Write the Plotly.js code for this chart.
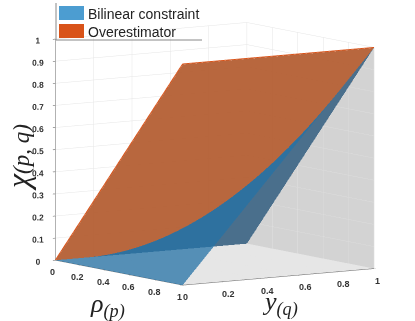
<!DOCTYPE html>
<html>
<head>
<meta charset="utf-8">
<script src="https://cdn.plot.ly/plotly-3.0.1.min.js"></script>
<style>html,body{margin:0;padding:0;background:#fff}</style>
</head>
<body>
<div id="chart" style="width:415px;height:321px"></div>
<script>
var tickValues = [0, 0.2, 0.4, 0.6, 0.8, 1];
var zTickValues = [0, 0.1, 0.2, 0.3, 0.4, 0.5, 0.6, 0.7, 0.8, 0.9, 1];

var legendLabels = ['Bilinear constraint', 'Overestimator'];

var rhoGrid = [0, 0.1, 0.2, 0.3, 0.4, 0.5, 0.6, 0.7, 0.8, 0.9, 1];
var yGrid = [0, 0.1, 0.2, 0.3, 0.4, 0.5, 0.6, 0.7, 0.8, 0.9, 1];
var bilinearZ = [
  [0, 0, 0, 0, 0, 0, 0, 0, 0, 0, 0],
  [0, 0.01, 0.02, 0.03, 0.04, 0.05, 0.06, 0.07, 0.08, 0.09, 0.1],
  [0, 0.02, 0.04, 0.06, 0.08, 0.1, 0.12, 0.14, 0.16, 0.18, 0.2],
  [0, 0.03, 0.06, 0.09, 0.12, 0.15, 0.18, 0.21, 0.24, 0.27, 0.3],
  [0, 0.04, 0.08, 0.12, 0.16, 0.2, 0.24, 0.28, 0.32, 0.36, 0.4],
  [0, 0.05, 0.1, 0.15, 0.2, 0.25, 0.3, 0.35, 0.4, 0.45, 0.5],
  [0, 0.06, 0.12, 0.18, 0.24, 0.3, 0.36, 0.42, 0.48, 0.54, 0.6],
  [0, 0.07, 0.14, 0.21, 0.28, 0.35, 0.42, 0.49, 0.56, 0.63, 0.7],
  [0, 0.08, 0.16, 0.24, 0.32, 0.4, 0.48, 0.56, 0.64, 0.72, 0.8],
  [0, 0.09, 0.18, 0.27, 0.36, 0.45, 0.54, 0.63, 0.72, 0.81, 0.9],
  [0, 0.1, 0.2, 0.3, 0.4, 0.5, 0.6, 0.7, 0.8, 0.9, 1]
];

var overRho = [0, 1];
var overY = [0, 1];
var overZ = [[0, 1], [0, 1]];

// orange rim along the top of the overestimator
var rimX = [0, 1, 1];
var rimY = [0, 0, 1];
var rimZ = [0, 1, 1];

// gray triangle on the back wall
var wallX = [0, 1, 1];
var wallY = [1, 1, 1];
var wallZ = [0, 0, 1];

function flat(c) { return [[0, c], [1, c]]; }

var data = [
  {
    type: 'mesh3d', x: wallX, y: wallY, z: wallZ, i: [0], j: [1], k: [2],
    color: '#d3d3d3', flatshading: true, hoverinfo: 'skip',
    lighting: {ambient: 1, diffuse: 0, specular: 0}
  },
  {
    // just under 1 so it goes in the transparent pass and does not fight the blue along y=1
    type: 'surface', x: overRho, y: overY, z: overZ,
    colorscale: flat('#b7653c'), showscale: false, opacity: 0.99, hoverinfo: 'skip',
    lighting: {ambient: 1, diffuse: 0, specular: 0, fresnel: 0}
  },
  {
    type: 'scatter3d', mode: 'lines', x: rimX, y: rimY, z: rimZ,
    line: {color: '#d95319', width: 2}, hoverinfo: 'skip'
  },
  {
    type: 'surface', x: rhoGrid, y: yGrid, z: bilinearZ,
    colorscale: flat('#2572a6'), showscale: false, opacity: 0.75, hoverinfo: 'skip',
    lighting: {ambient: 1, diffuse: 0, specular: 0, fresnel: 0}
  }
];

function axis(vals) {
  return {
    title: {text: ''},
    range: [0, 1], autorange: false,
    tickmode: 'array', tickvals: vals, ticktext: vals.map(function (v) { return '<b>' + v + '</b>'; }),
    tickangle: 0,
    tickfont: {family: 'Liberation Sans', size: 10, color: '#333'},
    ticks: 'outside', ticklen: 3, tickcolor: '#555',
    showgrid: true, gridcolor: 'rgba(0,0,0,0.1)', gridwidth: 1,
    showline: true, linecolor: '#666', linewidth: 1,
    zeroline: false, showspikes: false, showbackground: false
  };
}

var xAxis = axis(tickValues);
xAxis.showticklabels = false;
var yAxis = axis(tickValues);
yAxis.showticklabels = false;
var zAxis = axis(zTickValues);
zAxis.showbackground = true;
zAxis.backgroundcolor = '#e6e6e6';

// rho and y tick labels sit further off the axis than the native ones
function tickLabel(x, y, v, xs, ys) {
  return {
    x: x, y: y, z: 0, text: String(v), showarrow: false, xshift: xs, yshift: ys,
    font: {family: 'Liberation Sans', size: 9, color: '#333', weight: 'bold'}
  };
}
var sceneNotes = tickValues.map(function (v) { return tickLabel(v, 0, v, -3, -12); })
  .concat(tickValues.map(function (v) { return tickLabel(1, v, v, (v === 0 || v === 1) ? 3 : 8, -12); }));

var layout = {
  width: 415, height: 321,
  margin: {l: 0, r: 0, t: 0, b: 0},
  paper_bgcolor: '#fff',
  showlegend: false,
  scene: {
    domain: {x: [0, 1], y: [0, 1]},
    aspectmode: 'manual',
    aspectratio: {x: 1.433, y: 1.433, z: 1.39},
    xaxis: xAxis,
    yaxis: yAxis,
    zaxis: zAxis,
    annotations: sceneNotes,
    camera: {
      projection: {type: 'orthographic'},
      up: {x: 0, y: 0, z: 1},
      center: {x: -0.026, y: -0.037, z: -0.042},
      eye: {x: 1.8, y: -1.25, z: 0.246}
    }
  },
  shapes: [
    {type: 'line', xref: 'paper', yref: 'paper', x0: 56 / 415, x1: 56 / 415, y0: 1 - 3 / 321, y1: 1 - 40 / 321, line: {color: '#888', width: 1}},
    {type: 'line', xref: 'paper', yref: 'paper', x0: 56 / 415, x1: 202 / 415, y0: 1 - 40 / 321, y1: 1 - 40 / 321, line: {color: '#888', width: 1}},
    {type: 'rect', xref: 'paper', yref: 'paper', x0: 59 / 415, x1: 84 / 415, y0: 1 - 6 / 321, y1: 1 - 20 / 321, fillcolor: '#4c9dd1', line: {width: 0}},
    {type: 'rect', xref: 'paper', yref: 'paper', x0: 59 / 415, x1: 84 / 415, y0: 1 - 24 / 321, y1: 1 - 38 / 321, fillcolor: '#d95319', line: {width: 0}}
  ],
  annotations: [
    {text: legendLabels[0], xref: 'paper', yref: 'paper', x: 86 / 415, y: 1 - 14 / 321, xanchor: 'left', yanchor: 'middle', showarrow: false, font: {family: 'Liberation Sans', size: 14, color: '#222'}},
    {text: legendLabels[1], xref: 'paper', yref: 'paper', x: 86 / 415, y: 1 - 32 / 321, xanchor: 'left', yanchor: 'middle', showarrow: false, font: {family: 'Liberation Sans', size: 14, color: '#222'}},
    {text: '<i>χ<span style="font-size:23px">(p, q)</span></i>', xref: 'paper', yref: 'paper', x: 18 / 415, y: 1 - 158 / 321, xanchor: 'center', yanchor: 'middle', textangle: -90, showarrow: false, font: {family: 'Liberation Serif', size: 32, color: '#222'}},
    {text: '<i>ρ<sub>(p)</sub></i>', xref: 'paper', yref: 'paper', x: 107 / 415, y: 1 - 305 / 321, xanchor: 'center', yanchor: 'middle', showarrow: false, font: {family: 'Liberation Serif', size: 26, color: '#222'}},
    {text: '<i>y<sub>(q)</sub></i>', xref: 'paper', yref: 'paper', x: 280 / 415, y: 1 - 303 / 321, xanchor: 'center', yanchor: 'middle', showarrow: false, font: {family: 'Liberation Serif', size: 26, color: '#222'}}
  ]
};

Plotly.newPlot('chart', data, layout, {displayModeBar: false});
</script>
</body>
</html>
